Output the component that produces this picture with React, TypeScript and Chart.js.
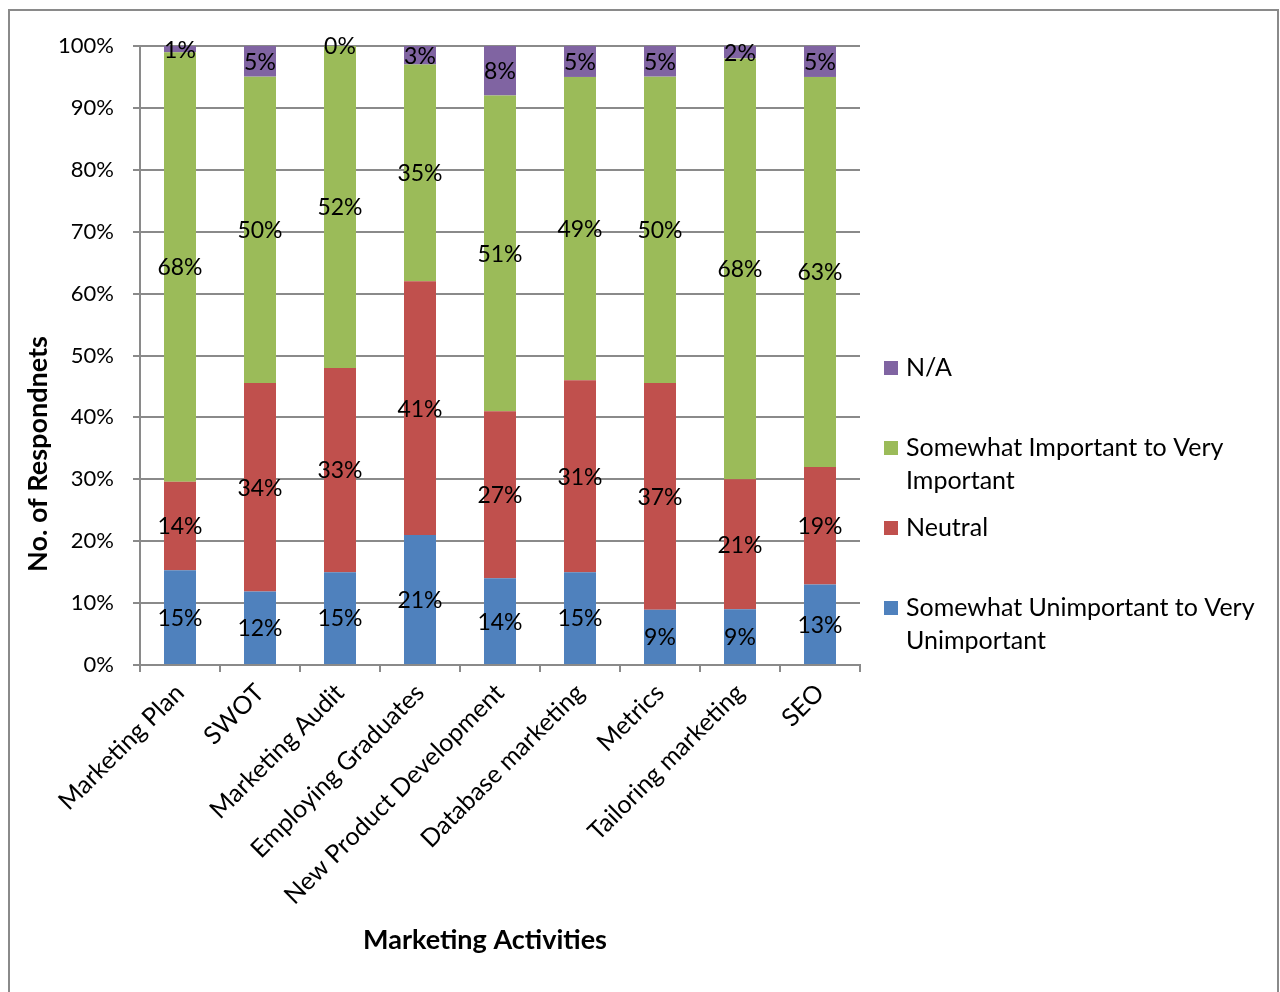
import React, { useEffect, useRef } from "react";
import { Chart, registerables } from "chart.js";

Chart.register(...registerables);

const categories = [
  "Marketing Plan",
  "SWOT",
  "Marketing Audit",
  "Employing Graduates",
  "New Product Development",
  "Database marketing",
  "Metrics",
  "Tailoring marketing",
  "SEO",
];

const unimportant = [15, 12, 15, 21, 14, 15, 9, 9, 13];
const neutral = [14, 34, 33, 41, 27, 31, 37, 21, 19];
const important = [68, 50, 52, 35, 51, 49, 50, 68, 63];
const notApplicable = [1, 5, 0, 3, 8, 5, 5, 2, 5];

const yTicks = [0, 10, 20, 30, 40, 50, 60, 70, 80, 90, 100];

const seriesNames = [
  "Somewhat Unimportant to Very Unimportant",
  "Neutral",
  "Somewhat Important to Very Important",
  "N/A",
];
const legendLines = [
  ["Somewhat Unimportant to Very", "Unimportant"],
  ["Neutral"],
  ["Somewhat Important to Very", "Important"],
  ["N/A"],
];
const colors = ["#4F81BD", "#C0504D", "#9BBB59", "#8064A2"];

const FONT = "Lato, 'Open Sans', sans-serif";
const GRID = "#8a8a8a";

export default function App() {
  const ref = useRef<HTMLCanvasElement | null>(null);

  useEffect(() => {
    if (!ref.current) return;
    const raw = [unimportant, neutral, important, notApplicable];
    const totals = categories.map((_, j) => raw.reduce((s, arr) => s + arr[j], 0));

    const decor = {
      id: "decor",
      afterDatasetsDraw(chart: any) {
        const ctx = chart.ctx;
        ctx.save();
        ctx.fillStyle = "#000";
        ctx.font = `23px ${FONT}`;
        ctx.textAlign = "center";
        ctx.textBaseline = "middle";
        chart.data.datasets.forEach((ds: any, i: number) => {
          const meta = chart.getDatasetMeta(i);
          meta.data.forEach((el: any, j: number) => {
            const y = (el.y + el.base) / 2;
            ctx.fillText(raw[i][j] + "%", el.x, y + 1);
          });
        });
        ctx.restore();
      },
      afterDraw(chart: any) {
        const ctx = chart.ctx;
        ctx.save();
        // outer border
        ctx.strokeStyle = GRID;
        ctx.lineWidth = 2;
        ctx.strokeRect(9, 10, 1269, 1000);
        // legend
        const starts = [608, 528, 448, 368];
        ctx.font = `25px ${FONT}`;
        ctx.textAlign = "left";
        ctx.textBaseline = "middle";
        for (let i = 3; i >= 0; i--) {
          const y = starts[i];
          ctx.fillStyle = colors[i];
          ctx.fillRect(884, y - 7, 14, 14);
          ctx.fillStyle = "#000";
          legendLines[i].forEach((t, k) => ctx.fillText(t, 906, y + k * 33));
        }
        // axis titles
        ctx.font = `bold 27px ${FONT}`;
        ctx.textAlign = "center";
        ctx.fillText("Marketing Activities", 485, 940);
        ctx.translate(38, 454);
        ctx.rotate(-Math.PI / 2);
        ctx.fillText("No. of Respondnets", 0, 0);
        ctx.restore();
      },
    };

    const chart = new Chart(ref.current, {
      type: "bar",
      data: {
        labels: categories,
        datasets: raw.map((arr, i) => ({
          label: seriesNames[i],
          data: arr.map((v, j) => (v / totals[j]) * 100),
          backgroundColor: colors[i],
          borderWidth: 0,
          barPercentage: 0.4,
          categoryPercentage: 1,
        })),
      },
      options: {
        responsive: false,
        animation: false,
        devicePixelRatio: 1,
        layout: { padding: { left: 0, right: 420, top: 46, bottom: 0 } },
        plugins: {
          legend: { display: false },
          tooltip: { enabled: false },
          title: { display: false },
        },
        scales: {
          x: {
            stacked: true,
            grid: {
              offset: true,
              drawOnChartArea: false,
              drawTicks: true,
              tickLength: 7,
              color: GRID,
              lineWidth: 2,
            },
            border: { color: GRID, width: 2 },
            ticks: {
              color: "#000",
              font: { family: FONT, size: 25 },
              minRotation: 45,
              maxRotation: 45,
              autoSkip: false,
              padding: 6,
            },
            afterFit(scale: any) {
              scale.height = 992 - 665;
            },
          },
          y: {
            stacked: true,
            min: 0,
            max: 100,
            afterBuildTicks(scale: any) {
              scale.ticks = yTicks.map((v) => ({ value: v }));
            },
            grid: {
              color: GRID,
              lineWidth: 2,
              drawTicks: true,
              tickLength: 7,
            },
            border: { color: GRID, width: 2 },
            ticks: {
              color: "#000",
              font: { family: FONT, size: 22 },
              padding: 19,
              callback: (v: any) => v + "%",
            },
            afterFit(scale: any) {
              scale.width = 140;
            },
          },
        },
      },
      plugins: [decor],
    });
    return () => chart.destroy();
  }, []);

  return (
    <div style={{ position: "fixed", left: 0, top: 0, width: 1280, height: 992, background: "#fff" }}>
      <canvas ref={ref} width={1280} height={992} />
    </div>
  );
}
